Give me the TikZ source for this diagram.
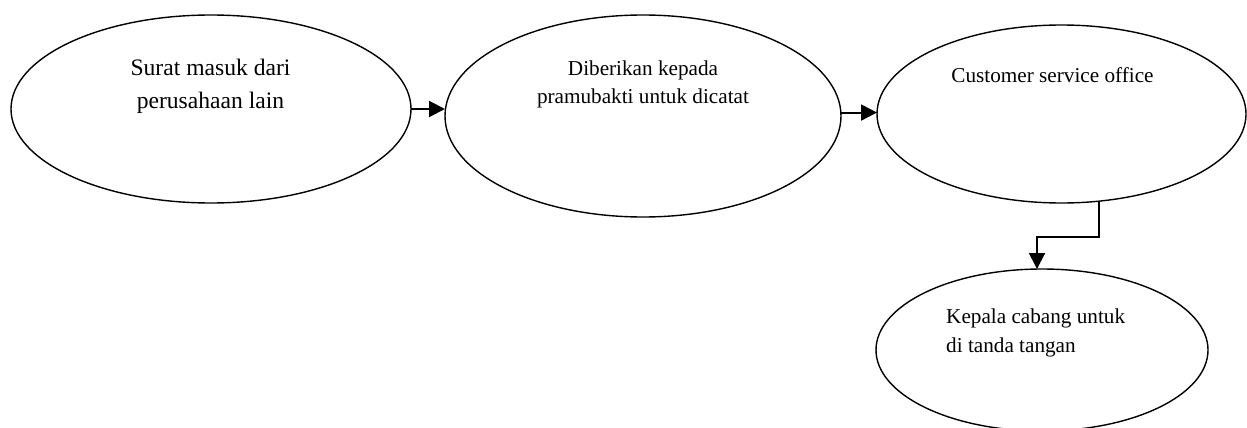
\documentclass[tikz,border=0pt]{standalone}
\usepackage{fontspec}
\setmainfont{Liberation Serif}
\usetikzlibrary{shapes.geometric,arrows.meta}
\begin{document}
\begin{tikzpicture}[x=1pt,y=-1pt,
  oval/.style={draw,ellipse,line width=1.4pt,inner sep=0pt,outer sep=0pt},
  arr/.style={line width=2pt,-{Triangle[length=16pt,width=16pt]}},
  txta/.style={font=\fontsize{23.6}{33}\selectfont,align=center,anchor=base,inner sep=0pt},
  txtb/.style={font=\fontsize{21.2}{28}\selectfont,align=center,anchor=base,inner sep=0pt}]
\useasboundingbox (0,0) rectangle (1247,428);
\node[oval,minimum width=400pt,minimum height=188pt] (e1) at (211,109) {};
\node[oval,minimum width=396pt,minimum height=202pt] (e2) at (643,116) {};
\node[oval,minimum width=369pt,minimum height=178pt] (e3) at (1061.5,114) {};
\node[oval,minimum width=332pt,minimum height=162pt] (e4) at (1042,350) {};
\node[txta] (t1) at (210.5,108.5) {Surat masuk dari\\perusahaan lain};
\node[txtb] (t2) at (643,103) {Diberikan kepada\\pramubakti untuk dicatat};
\node[txtb] (t3) at (1052.5,82) {Customer service office};
\node[txtb,align=left,anchor=base west,font=\fontsize{21.2}{29}\selectfont] (t4) at (946,352) {Kepala cabang untuk\\di tanda tangan};
\draw[arr] (e1.east) -- (e1.east -| e2.west);
\draw[arr] (e2.1.7) -- (e2.1.7 -| e3.west);
\coordinate (k1) at (1037,236.5);
\draw[arr] (e3.-67.8) |- (k1) -- (k1 |- e4.north);
\end{tikzpicture}
\end{document}
